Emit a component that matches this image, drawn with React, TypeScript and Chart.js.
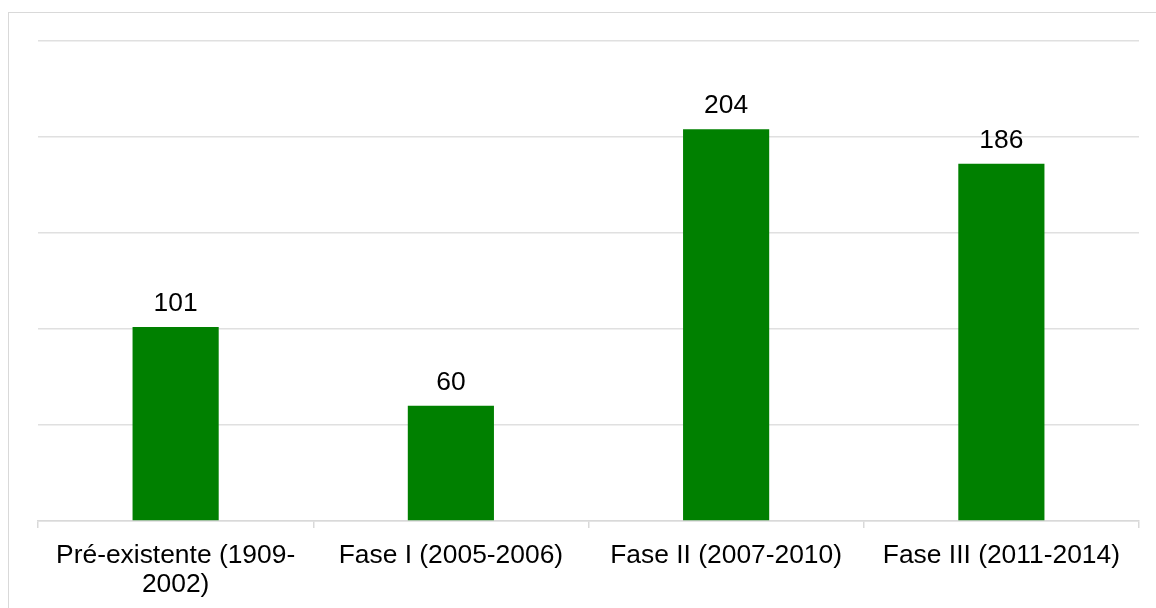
import React, { useEffect, useRef } from "react";
import { Chart, registerables } from "chart.js";

Chart.register(...registerables);

// Phases of the programme and the count recorded for each
const categories: (string | string[])[] = [
  ["Pré-existente (1909-", "2002)"],
  "Fase I (2005-2006)",
  "Fase II (2007-2010)",
  "Fase III (2011-2014)",
];
const values: number[] = [101, 60, 204, 186];

const yMax = 250;
const yStep = 50;

const FONT = "'Liberation Sans', Arial, sans-serif";

// Writes each bar's value just above it
const valueLabels = {
  id: "valueLabels",
  afterDatasetsDraw(chart: any) {
    const ctx = chart.ctx;
    const meta = chart.getDatasetMeta(0);
    ctx.save();
    ctx.font = `26.4px ${FONT}`;
    ctx.fillStyle = "#000000";
    ctx.textAlign = "center";
    ctx.textBaseline = "alphabetic";
    meta.data.forEach((bar: any, i: number) => {
      ctx.fillText(String(values[i]), bar.x, bar.y - 16);
    });
    ctx.restore();
  },
};

export default function App() {
  const canvasRef = useRef<HTMLCanvasElement | null>(null);

  useEffect(() => {
    if (!canvasRef.current) return;
    const chart = new Chart(canvasRef.current, {
      type: "bar",
      data: {
        labels: categories,
        datasets: [
          {
            data: values,
            backgroundColor: "#008000",
            borderWidth: 0,
            barPercentage: 0.313,
            categoryPercentage: 1,
          },
        ],
      },
      options: {
        responsive: false,
        animation: false,
        devicePixelRatio: 1,
        layout: { padding: { left: 38, right: 17, top: 41, bottom: 2 } },
        plugins: {
          legend: { display: false },
          tooltip: { enabled: false },
        },
        scales: {
          x: {
            grid: {
              offset: true,
              drawOnChartArea: false,
              drawTicks: true,
              tickLength: 7,
              color: "#d9d9d9",
              lineWidth: 1.5,
            },
            border: { display: true, color: "#d9d9d9", width: 1.5 },
            ticks: {
              color: "#000000",
              font: { family: FONT, size: 26.4, lineHeight: 1.1 },
              maxRotation: 0,
              autoSkip: false,
              padding: 13,
            },
          },
          y: {
            min: 0,
            max: yMax,
            ticks: { display: false, stepSize: yStep },
            grid: { color: "#e0e0e0", lineWidth: 1.5, drawTicks: false },
            border: { display: false },
          },
        },
      },
      plugins: [valueLabels],
    });
    return () => chart.destroy();
  }, []);

  return (
    <div style={{ position: "fixed", left: 0, top: 0, width: 1156, height: 608, overflow: "hidden", background: "#ffffff" }}>
      <div
        style={{
          position: "absolute",
          left: 8,
          top: 12,
          width: 1170,
          height: 620,
          border: "1.5px solid #d9d9d9",
          boxSizing: "border-box",
        }}
      />
      <canvas
        ref={canvasRef}
        width={1156}
        height={614}
        style={{ position: "absolute", left: 0, top: 0, width: 1156, height: 614 }}
      />
    </div>
  );
}
